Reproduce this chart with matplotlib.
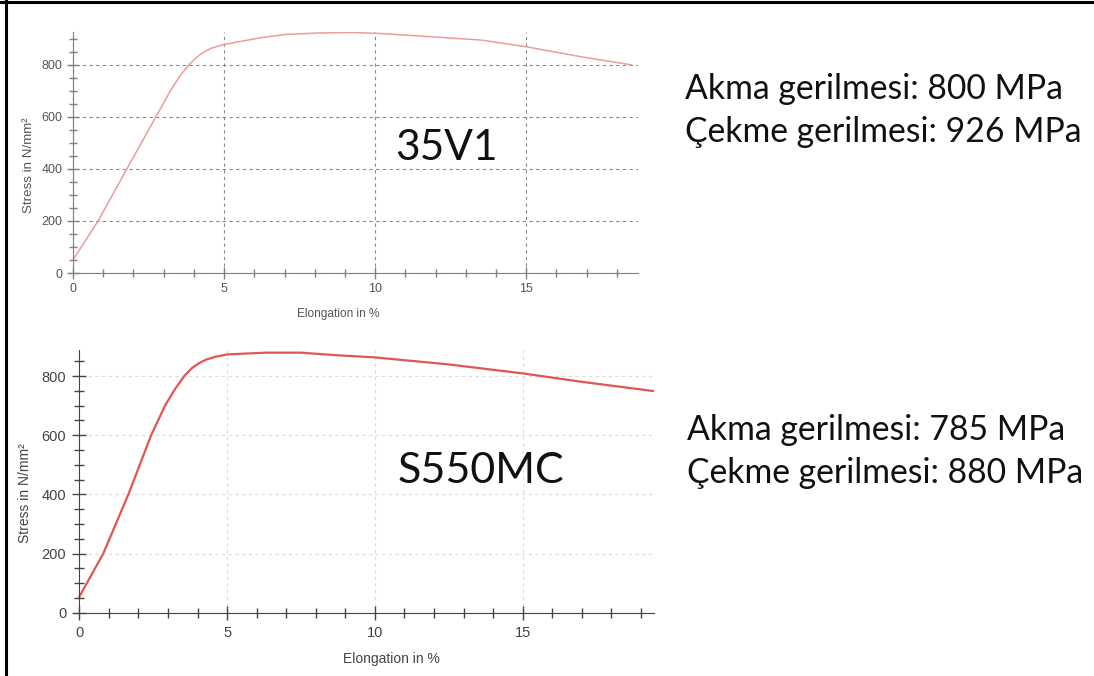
import numpy as np
import matplotlib
matplotlib.use('Agg')
import matplotlib.pyplot as plt
from matplotlib.ticker import MultipleLocator
from matplotlib.lines import Line2D

#===============================================================================
# 35V1 curve
x_35v1 = [0, 0.83, 1.78, 2.74, 3.22, 3.55, 3.83, 4.05, 4.22, 4.56, 5.0, 6.22, 7.0, 8.1, 9.3, 10.2, 13.5, 15.0, 16.8, 18.5]
y_35v1 = [51, 200, 400, 600, 700, 760, 800, 825, 841, 864, 879, 905, 917, 923, 925, 921, 896, 870, 832, 800]
# S550MC curve
x_s550 = [0, 0.81, 1.66, 2.43, 2.91, 3.25, 3.55, 3.80, 4.04, 4.30, 4.6, 5.0, 6.3, 7.5, 8.6, 10.0, 12.43, 15.0, 16.96, 19.44]
y_s550 = [54, 200, 400, 600, 702, 758, 800, 826, 843, 856, 865, 873, 879, 879, 871, 863, 840, 809, 781, 749]

names = ['35V1', 'S550MC']
lines_top = ['Akma gerilmesi: 800 MPa', 'Çekme gerilmesi: 926 MPa']
lines_bot = ['Akma gerilmesi: 785 MPa', 'Çekme gerilmesi: 880 MPa']
#===============================================================================
W, H = 1094, 676
fig = plt.figure(figsize=(W / 100, H / 100), dpi=100, facecolor='w')

def px(l, b, r, t):
    return [l / W, 1 - b / H, (r - l) / W, (b - t) / H]

def style(ax, xmax, ymax, spc, lblc, gridc, fs, tl, pad):
    ax.set_xlim(-0.15, xmax)
    ax.set_ylim(0, ymax)
    for s in ['top', 'right']:
        ax.spines[s].set_visible(False)
    ax.spines['left'].set_position(('data', 0))
    for s in ['left', 'bottom']:
        ax.spines[s].set_color(spc)
    ax.xaxis.set_major_locator(MultipleLocator(5))
    ax.xaxis.set_minor_locator(MultipleLocator(1))
    ax.yaxis.set_major_locator(MultipleLocator(200))
    ax.yaxis.set_minor_locator(MultipleLocator(50))
    ax.tick_params(which='major', direction='inout', length=tl, width=1,
                   color=spc, labelcolor=lblc, labelsize=fs, pad=pad)
    ax.tick_params(which='minor', direction='inout', length=tl * 0.7, width=1, color=spc)
    ax.grid(True, which='major', ls=(0, (3, 3)), color=gridc, lw=0.8)
    ax.set_axisbelow(True)
    for t in ax.get_xticklabels() + ax.get_yticklabels():
        t.set_family('Liberation Sans')

#=============================================================================== top
ax1 = fig.add_axes(px(68.5, 273, 638, 31.7))
ax1.plot(x_35v1, y_35v1, color='#eb9c9c', lw=1.1)
style(ax1, 18.7, 928, '#808080', '#555555', '#8a8a8a', 9, 8, 3.5)
ax1.set_xlabel('Elongation in %', fontsize=8.6, color='#555555', family='Liberation Sans')
ax1.set_ylabel('Stress in N/mm²', fontsize=9.6, color='#555555', family='Liberation Sans')
ax1.xaxis.set_label_coords(0.473, -0.145)
ax1.yaxis.set_label_coords(-0.059, 0.448)

#=============================================================================== bottom
ax2 = fig.add_axes(px(74.9, 612.7, 654.2, 350))
ax2.plot(x_s550, y_s550, color='#e05555', lw=1.6)
style(ax2, 19.45, 888, '#444444', '#444444', '#dddddd', 10.5, 10, 4.5)
ax2.set_xlabel('Elongation in %', fontsize=10, color='#444444', family='Liberation Sans')
ax2.set_ylabel('Stress in N/mm²', fontsize=10, color='#444444', family='Liberation Sans')
ax2.xaxis.set_label_coords(0.546, -0.148)
ax2.yaxis.set_label_coords(-0.074, 0.456)

#=============================================================================== texts
fig.text(395 / W, 1 - 160 / H, names[0], fontsize=30.5, family='Lato', color='#111111', va='baseline')
fig.text(398 / W, 1 - 483 / H, names[1], fontsize=31, family='Lato', color='#111111', va='baseline')
fig.text(685 / W, 1 - 99 / H, lines_top[0], fontsize=24.3, family='Lato', color='#111111', va='baseline')
fig.text(685 / W, 1 - 142 / H, lines_top[1], fontsize=24.3, family='Lato', color='#111111', va='baseline')
fig.text(687 / W, 1 - 440 / H, lines_bot[0], fontsize=24.3, family='Lato', color='#111111', va='baseline')
fig.text(687 / W, 1 - 483 / H, lines_bot[1], fontsize=24.3, family='Lato', color='#111111', va='baseline')

#=============================================================================== frame
fig.add_artist(Line2D([0, 1], [1 - 1.5 / H] * 2, transform=fig.transFigure, color='k', lw=2.2))
fig.add_artist(Line2D([6 / W] * 2, [0, 1], transform=fig.transFigure, color='k', lw=2.2))

plt.savefig('out.png', dpi=100)
